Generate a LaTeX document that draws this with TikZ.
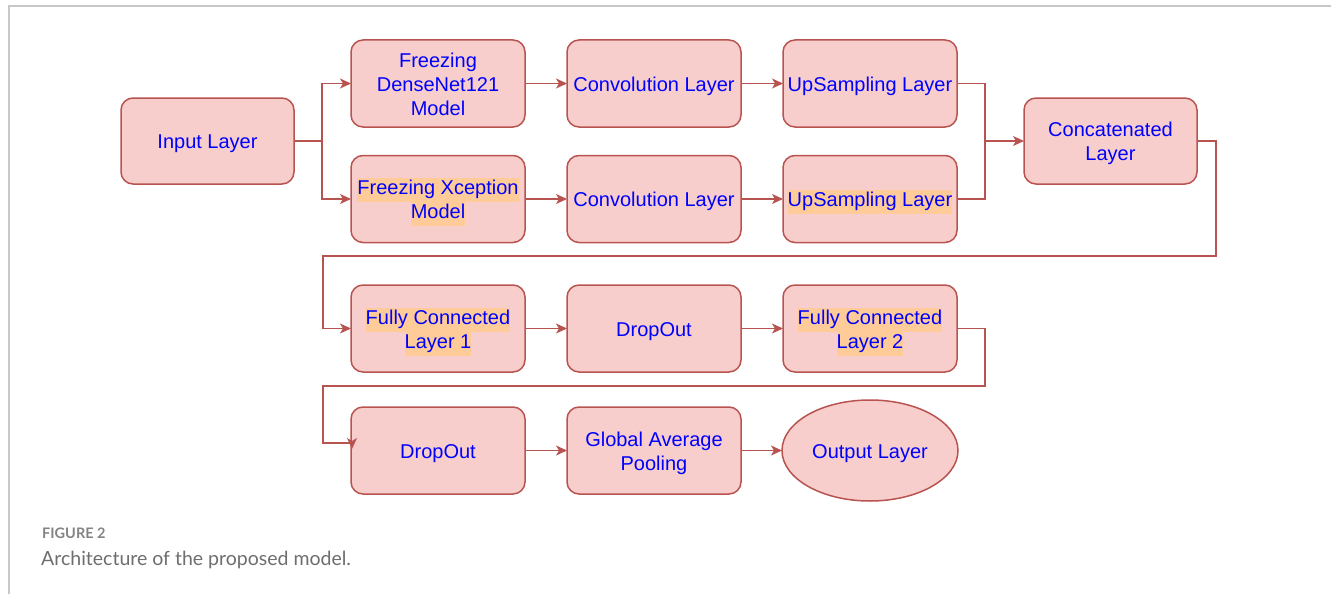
\documentclass[tikz,border=0pt]{standalone}
\usepackage{fontspec}
\setmainfont{Liberation Sans}
\newfontfamily\capfont{Lato}
\usetikzlibrary{arrows.meta,shapes.geometric}
\definecolor{boxfill}{HTML}{F8CECC}
\definecolor{boxline}{HTML}{B85450}
\definecolor{txtblue}{HTML}{0000FF}
\definecolor{hlc}{HTML}{FFCC99}
\definecolor{framegray}{HTML}{C8C8C8}
\definecolor{capgray}{HTML}{6E6E6E}
% one line of a label, with or without a highlight behind it;
% the declared height/depth set the text slightly below the box centre
\newcommand\lbl[1]{\raisebox{0pt}[19.8pt][4.2pt]{\strut #1}}
\newcommand\hlt[1]{\raisebox{0pt}[19.8pt][4.2pt]{\setlength{\fboxsep}{0pt}\colorbox{hlc}{\strut #1}}}
\tikzset{
  layer/.style={draw=boxline, fill=boxfill, line width=1.5pt, rounded corners=12pt,
    minimum width=174pt, minimum height=87pt, inner sep=0pt, outer sep=0pt,
    align=center, text=txtblue, font=\fontsize{20}{24}\selectfont},
  outlayer/.style={layer, ellipse, rounded corners=0pt, minimum width=176pt, minimum height=101pt},
  link/.style={draw=boxline, line width=1.5pt},
  arr/.style={link, -{Stealth[length=11pt,width=10pt,inset=3pt]}},
}
\begin{document}
\begin{tikzpicture}[x=1pt,y=-1pt]
\useasboundingbox (0,0) rectangle (1331,594);
% frame
\draw[framegray, line width=1.5pt] (9,594) -- (9,6) -- (1331,6);

% nodes
\node[layer, minimum width=173pt, minimum height=86pt] (in) at (207.5,141) {\lbl{Input Layer}};
\node[layer] (dn)  at (438,83.5) {\lbl{Freezing}\\\lbl{DenseNet121}\\\lbl{Model}};
\node[layer] (cv1) at (654,83.5) {\lbl{Convolution Layer}};
\node[layer] (up1) at (870,83.5) {\lbl{UpSampling Layer}};
\node[layer] (xc)  at (438,199) {\hlt{Freezing Xception}\\\hlt{Model}};
\node[layer] (cv2) at (654,199) {\lbl{Convolution Layer}};
\node[layer] (up2) at (870,199) {\hlt{UpSampling Layer}};
\node[layer, minimum width=173pt, minimum height=86pt] (cat) at (1110.5,141) {\lbl{Concatenated}\\\lbl{Layer}};
\node[layer] (fc1) at (438,328.5) {\hlt{Fully Connected}\\\hlt{Layer 1}};
\node[layer] (do1) at (654,328.5) {\lbl{DropOut}};
\node[layer] (fc2) at (870,328.5) {\hlt{Fully Connected}\\\hlt{Layer 2}};
\node[layer] (do2) at (438,450.5) {\lbl{DropOut}};
\node[layer] (gap) at (654,450.5) {\lbl{Global Average}\\\lbl{Pooling}};
\node[outlayer] (out) at (870,450.5) {\lbl{Output Layer}};

% connectors
\coordinate (s1) at (322,141);
\draw[link] (in.east) -- (s1);
\draw[arr] (s1) |- (dn.west);
\draw[arr] (s1) |- (xc.west);
\draw[arr] (dn) -- (cv1);
\draw[arr] (cv1) -- (up1);
\draw[arr] (xc) -- (cv2);
\draw[arr] (cv2) -- (up2);
\coordinate (s2) at (985,141);
\draw[link] (up1.east) -| (s2);
\draw[link] (up2.east) -| (s2);
\draw[arr] (s2) -- (cat.west);
\draw[arr] (cat.east) -- (1216,141) -- (1216,256) -- (323,256) |- (fc1.west);
\draw[arr] (fc1) -- (do1);
\draw[arr] (do1) -- (fc2);
\coordinate (t) at (352,449);
\draw[arr] (fc2.east) -- (985,328.5) -- (985,386) -- (323,386) -- (323,443) -- (352,443) -- (t);
\draw[arr] (do2) -- (gap);
\draw[arr] (gap) -- (out);

% caption
\node[anchor=west, inner sep=0pt, text=capgray!85, font=\capfont\bfseries\fontsize{14.5}{17}\selectfont] (figno) at (42,533.5) {FIGURE 2};
\node[anchor=west, inner sep=0pt, text=capgray, font=\capfont\fontsize{19.5}{23}\selectfont] (figcap) at (41,559.5) {Architecture of the proposed model.};
\end{tikzpicture}
\end{document}
